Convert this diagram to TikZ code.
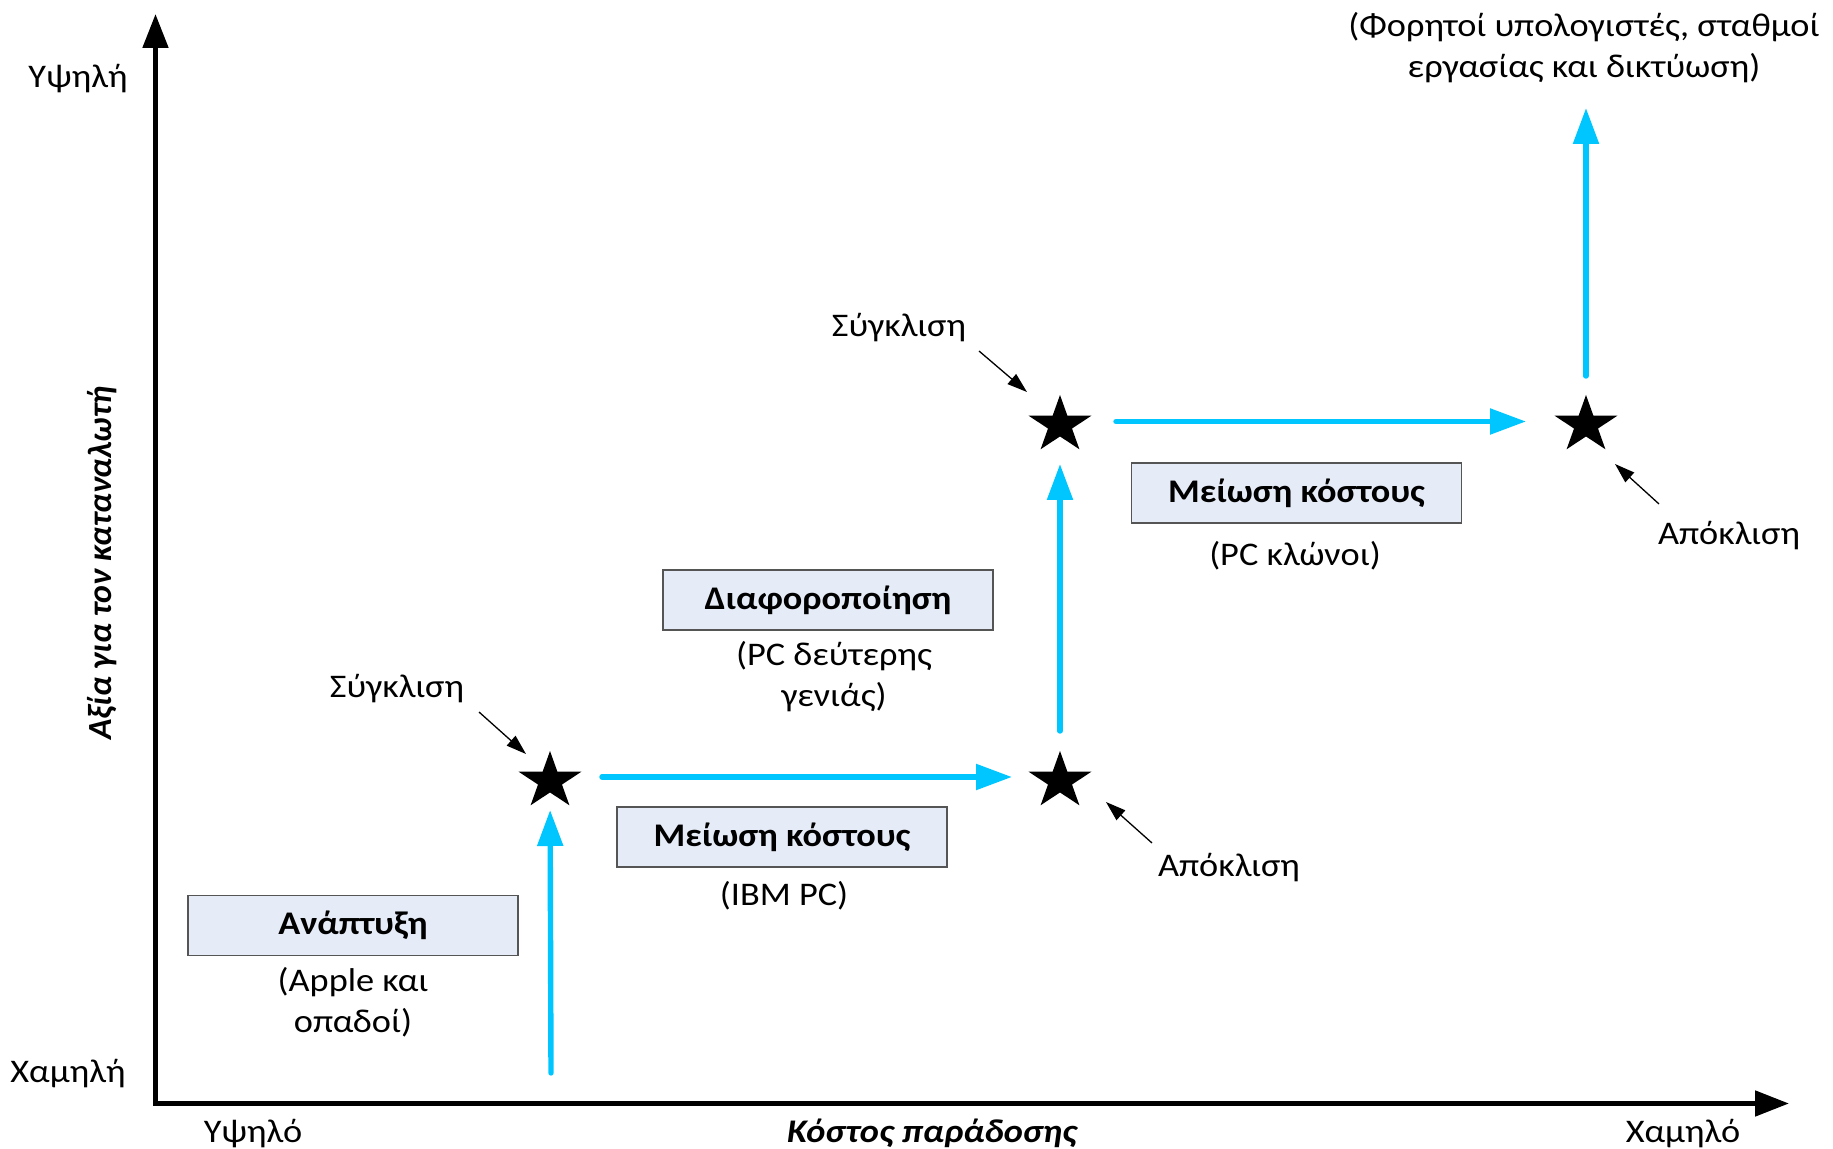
\documentclass[tikz,border=0pt]{standalone}
\usepackage{fontspec}
\setmainfont{Carlito}[FakeStretch=1.1]
\newfontfamily\plainfont{Carlito}
\usetikzlibrary{arrows.meta}
\definecolor{flowblue}{RGB}{0,198,255}
\definecolor{boxfill}{RGB}{230,236,247}
\definecolor{boxline}{RGB}{85,85,85}
\begin{document}
\begin{tikzpicture}[x=0.5pt,y=-0.5pt,
  txt/.style={font=\fontsize{16.5}{20.5}\selectfont, inner sep=0pt},
  axislbl/.style={font=\bfseries\itshape\fontsize{16.5}{20.5}\selectfont, inner sep=0pt},
  stagebox/.style={draw=boxline, line width=0.8pt, fill=boxfill, minimum width=165pt,
    minimum height=30pt, inner sep=0pt, font=\bfseries\fontsize{16.5}{20.5}\selectfont},
  starfill/.style={fill=black, xscale=1.1},
  flow/.style={draw=flowblue, line width=2.7pt, line cap=round,
    -{Triangle[length=18pt,width=12.5pt]}},
  pointer/.style={draw=black, line width=0.65pt, -{Triangle[length=10pt,width=6.5pt]}},
  axisline/.style={draw=black, line width=2.5pt, line join=miter,
    {Triangle[length=17pt,width=12.5pt]}-{Triangle[length=17pt,width=12.5pt]}}
]
\useasboundingbox (0,0) rectangle (1833,1149);

% axes
\coordinate (ytop) at (155.5,14);
\coordinate (orig) at (155.5,1103.5);
\coordinate (xend) at (1789,1103.5);
\draw[axisline] (ytop) -- (orig) -- (xend);

\node[txt, anchor=base] (yhigh) at (78,88) {Υψηλή};
\node[txt, anchor=base] (ylow) at (68,1082) {Χαμηλή};
\node[txt, anchor=base] (xhigh) at (253,1142) {Υψηλό};
\node[txt, anchor=base] (xlow) at (1683,1142) {Χαμηλό};
\node[axislbl, anchor=base] (xlabel) at (932,1142) {Κόστος παράδοσης};
\node[inner sep=0pt, font=\plainfont\bfseries\itshape\fontsize{16.9}{20.5}\selectfont,
  anchor=base, rotate=90] (ylabel) at (111,563) {Αξία για τον καταναλωτή};

% stars (centres)
\coordinate (s1) at (550,781);
\coordinate (s2) at (1060,781);
\coordinate (s3) at (1060,425);
\coordinate (s4) at (1586,425);
\foreach \s in {s1,s2,s3,s4}{
  \fill[shift={(\s)}, starfill] (-90:30) -- (-54:11.46) -- (-18:30) -- (18:11.46)
    -- (54:30) -- (90:11.46) -- (126:30) -- (162:11.46) -- (198:30) -- (234:11.46) -- cycle;
}

% flow arrows
\coordinate (a1start) at (551,1073);
\coordinate (a5end) at (1586,108);
\draw[flow, shorten >=14.5pt] (a1start) -- (s1);
\draw[flow, transform canvas={yshift=2pt}, shorten <=26pt, shorten >=24pt] (s1) -- (s2);
\draw[flow, shorten <=25pt, shorten >=19.5pt] (s2) -- (s3);
\draw[flow, transform canvas={yshift=1.75pt}, shorten <=28pt, shorten >=30pt] (s3) -- (s4);
\draw[flow, shorten <=24.5pt] (s4) -- (a5end);

% boxes
\node[stagebox] (b1) at (353,925.5) {Ανάπτυξη};
\node[stagebox] (b2) at (782,837) {Μείωση κόστους};
\node[stagebox] (b3) at (828,600) {Διαφοροποίηση};
\node[stagebox] (b4) at (1296.5,493) {Μείωση κόστους};

% sub labels
\node[txt, align=center] (l1) at (353,1002) {(Apple και\\οπαδοί)};
\node[txt, anchor=base] (l2) at (784,906) {(IBM PC)};
\node[txt, align=center] (l3) at (834,677) {(PC δεύτερης\\γενιάς)};
\node[txt, anchor=base] (l4) at (1295,566) {(PC κλώνοι)};
\node[txt, align=center] (l5) at (1584,48) {(Φορητοί υπολογιστές, σταθμοί\\εργασίας και δικτύωση)};

% convergence / divergence labels
\node[txt, anchor=base] (c1) at (397,698) {Σύγκλιση};
\node[txt, anchor=base] (c2) at (899,337) {Σύγκλιση};
\node[txt, anchor=base] (d1) at (1229,877) {Απόκλιση};
\node[txt, anchor=base] (d2) at (1729,545) {Απόκλιση};

% pointers
\coordinate (p1a) at (479,712); \coordinate (p1b) at (526,754);
\coordinate (p2a) at (979,351); \coordinate (p2b) at (1027,392);
\coordinate (p3a) at (1152,843); \coordinate (p3b) at (1106,802);
\coordinate (p4a) at (1659,504); \coordinate (p4b) at (1615,464);
\draw[pointer] (p1a) -- (p1b);
\draw[pointer] (p2a) -- (p2b);
\draw[pointer] (p3a) -- (p3b);
\draw[pointer] (p4a) -- (p4b);
\end{tikzpicture}
\end{document}
